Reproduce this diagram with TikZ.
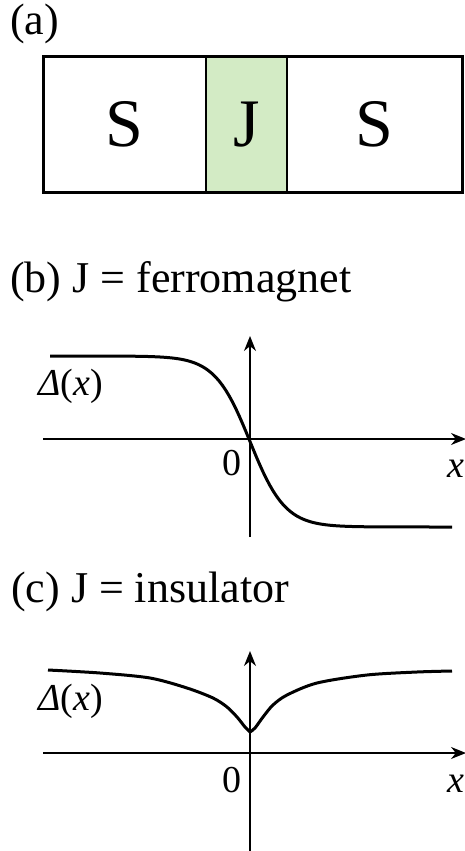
\documentclass[tikz,border=0pt]{standalone}
\usepackage{fontspec}
\setmainfont{LiberationSerif}[Extension=.ttf, UprightFont=*-Regular, ItalicFont=*-Italic]
\usepackage{tikz}
\usetikzlibrary{arrows.meta, positioning}
\definecolor{jgreen}{RGB}{211,235,197}

\begin{document}
\begin{tikzpicture}[
  x=1pt, y=-1pt,
  title/.style={anchor=base west, inner sep=0pt, font=\fontsize{44}{50}\selectfont},
  cell/.style={rectangle, minimum height=135pt, inner sep=0pt, outer sep=0pt, font=\fontsize{68}{70}\selectfont},
  lbl/.style={anchor=base, inner sep=0pt, font=\fontsize{38}{40}\selectfont},
  arrow/.style={-{Stealth[length=15pt, width=12pt]}, line width=1.5pt},
  curve/.style={line width=3pt}
  ]
  \useasboundingbox (0,0) rectangle (464,851);

  % (a) junction
  \node[title] (ta) at (10,35) {(a)};
  \node[cell, minimum width=163pt] (sl) at (124.5,124.5) {S};
  \node[cell, minimum width=81pt, fill=jgreen, right=0pt of sl] (jl) {J};
  \node[cell, minimum width=175.5pt, right=0pt of jl] (sr) {S};
  \draw[line width=1.5pt] (jl.north west) rectangle (jl.south east);
  \draw[line width=3pt] (sl.north west) rectangle (sr.south east);

  % (b) ferromagnet
  \node[title] (tb) at (10,292) {(b) J = ferromagnet};
  \coordinate (bl) at (43,439);
  \coordinate (br) at (466,439);
  \coordinate (bb) at (250,537);
  \coordinate (bt) at (250,336);
  \draw[arrow] (bl) -- (br);
  \draw[arrow] (bb) -- (bt);
  \draw[curve] plot[domain=50:452, samples=120] (\x,{441.5+85.5*tanh((\x-250)/35)});
  \node[lbl, anchor=base west] (db) at (38,395) {\textit{Δ}(\textit{x})};
  \node[lbl] (zb) at (232,475) {0};
  \node[lbl, anchor=base west] (xb) at (447,477) {\textit{x}};

  % (c) insulator
  \node[title] (tc) at (11,602) {(c) J = insulator};
  \coordinate (cl) at (43,753);
  \coordinate (cr) at (466,753);
  \coordinate (cb) at (250,851);
  \coordinate (ct) at (250,651);
  \draw[arrow] (cl) -- (cr);
  \draw[arrow] (cb) -- (ct);
  \draw[curve] plot[smooth, tension=0.5] coordinates {
    (48,670) (100,673) (150,678) (187,688) (213,698) (227,707) (237,717) (245,727) (250,732)};
  \draw[curve] plot[smooth, tension=0.5] coordinates {
    (250,732) (255,728) (263,717) (273,705) (287,695) (317,683) (367,675) (417,672) (452,671)};
  \node[lbl, anchor=base west] (dc) at (38,710) {\textit{Δ}(\textit{x})};
  \node[lbl] (zc) at (232,792) {0};
  \node[lbl, anchor=base west] (xc) at (447,792) {\textit{x}};
\end{tikzpicture}
\end{document}
